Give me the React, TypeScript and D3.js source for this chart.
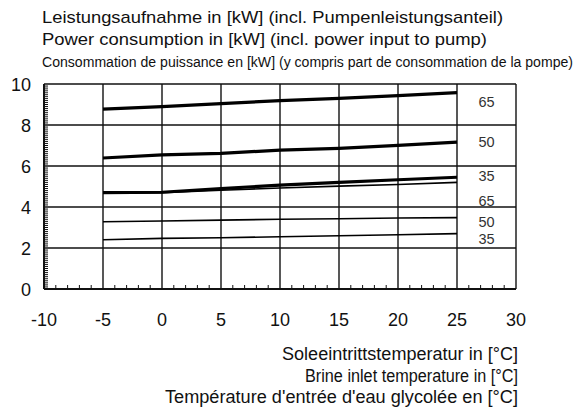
import React, { useEffect, useRef } from 'react';
import * as d3 from 'd3';

// brine inlet temperature [°C]
const temps = [-5, 0, 5, 10, 15, 20, 25];

// power consumption [kW]
const series = [
  { label: '65', values: [8.77, 8.9, 9.04, 9.19, 9.3, 9.43, 9.58], thick: true, labelAt: 8.87 },
  { label: '50', values: [6.39, 6.54, 6.62, 6.77, 6.86, 7.01, 7.16], thick: true, labelAt: 6.92 },
  { label: '35', values: [4.7, 4.72, 4.9, 5.07, 5.2, 5.33, 5.45], thick: true, labelAt: 5.27 },
  { label: '65', values: [4.67, 4.7, 4.82, 4.93, 5.02, 5.1, 5.2], thick: false, labelAt: 4.05 },
  { label: '50', values: [3.28, 3.32, 3.36, 3.4, 3.43, 3.46, 3.48], thick: false, labelAt: 3.03 },
  { label: '35', values: [2.4, 2.47, 2.5, 2.55, 2.6, 2.65, 2.7], thick: false, labelAt: 2.2 },
];

const xTicks = [-10, -5, 0, 5, 10, 15, 20, 25, 30];
const yTicks = [0, 2, 4, 6, 8, 10];

const titleLines = [
  'Leistungsaufnahme in [kW] (incl. Pumpenleistungsanteil)',
  'Power consumption in [kW] (incl. power input to pump)',
  'Consommation de puissance en [kW] (y compris part de consommation de la pompe)',
];
const xTitleLines = [
  'Soleeintrittstemperatur in [°C]',
  'Brine inlet temperature in [°C]',
  "Température d'entrée d'eau glycolée en [°C]",
];

const App: React.FC = () => {
  const ref = useRef<SVGSVGElement>(null);

  useEffect(() => {
    if (!ref.current) return;
    const svg = d3.select(ref.current);
    svg.selectAll('*').remove();

    const font = "'Liberation Sans', Arial, sans-serif";
    const x = d3.scaleLinear().domain([-10, 30]).range([44, 516]);
    const y = d3.scaleLinear().domain([0, 10]).range([289, 84]);

    svg.append('rect').attr('width', 576).attr('height', 409).attr('fill', '#fff');

    // titles (third line is set condensed)
    const titleW = [461, 445, 531];
    const titleY = [23, 45, 67];
    const titleFs = [17, 17, 14];
    titleLines.forEach((t, i) => {
      svg.append('text')
        .attr('x', 42).attr('y', titleY[i])
        .attr('font-family', font).attr('font-size', titleFs[i]).attr('fill', '#111')
        .attr('textLength', titleW[i]).attr('lengthAdjust', 'spacingAndGlyphs')
        .text(t);
    });

    // minor ticks
    const g = svg.append('g').attr('stroke', '#111').attr('stroke-width', 1);
    d3.range(-10, 31, 1).filter(v => v % 5 !== 0).forEach(v => {
      g.append('line').attr('x1', x(v)).attr('x2', x(v)).attr('y1', y(0)).attr('y2', y(0) - 4);
    });
    d3.range(1, 100).filter(v => v % 20 !== 0).forEach(v => {
      const yy = y(v / 10);
      g.append('line').attr('x1', x(-10)).attr('x2', x(-10) + 4).attr('y1', yy).attr('y2', yy);
    });

    // grid
    const grid = svg.append('g').attr('stroke', '#111').attr('stroke-width', 1.4);
    xTicks.slice(1).forEach(v => {
      grid.append('line').attr('x1', x(v)).attr('x2', x(v)).attr('y1', y(0)).attr('y2', y(10));
    });
    yTicks.slice(1).forEach(v => {
      grid.append('line').attr('x1', x(-10)).attr('x2', x(30)).attr('y1', y(v)).attr('y2', y(v));
    });
    grid.append('line').attr('x1', x(-10)).attr('x2', x(-10)).attr('y1', y(0)).attr('y2', y(10)).attr('stroke-width', 2);
    grid.append('line').attr('x1', x(-10)).attr('x2', x(30)).attr('y1', y(0)).attr('y2', y(0)).attr('stroke-width', 2);

    // tick labels
    xTicks.forEach(v => {
      svg.append('text')
        .attr('x', x(v)).attr('y', 326)
        .attr('text-anchor', 'middle')
        .attr('font-family', font).attr('font-size', 18).attr('fill', '#111')
        .text(v);
    });
    yTicks.forEach(v => {
      svg.append('text')
        .attr('x', 31).attr('y', y(v) + 6.5)
        .attr('text-anchor', 'end')
        .attr('font-family', font).attr('font-size', 18).attr('fill', '#111')
        .text(v);
    });

    // curves
    const line = d3.line<number>().x((_, i) => x(temps[i])).y(d => y(d));
    series.forEach(s => {
      svg.append('path')
        .attr('d', line(s.values))
        .attr('fill', 'none')
        .attr('stroke', '#000')
        .attr('stroke-width', s.thick ? 3.2 : 1.6);
      svg.append('text')
        .attr('x', x(27.5)).attr('y', y(s.labelAt))
        .attr('text-anchor', 'middle')
        .attr('font-family', font).attr('font-size', 14.5).attr('fill', '#333')
        .text(s.label);
    });

    // x-axis title
    const xTitleW = [236, 213, 353];
    xTitleLines.forEach((t, i) => {
      svg.append('text')
        .attr('x', 518).attr('y', 360 + i * 21.5)
        .attr('text-anchor', 'end')
        .attr('font-family', font).attr('font-size', 17.5).attr('fill', '#111')
        .attr('textLength', xTitleW[i]).attr('lengthAdjust', 'spacingAndGlyphs')
        .text(t);
    });
  }, []);

  return <svg ref={ref} width={576} height={409} style={{ position: 'absolute', left: 0, top: 0 }} />;
};

export default App;
